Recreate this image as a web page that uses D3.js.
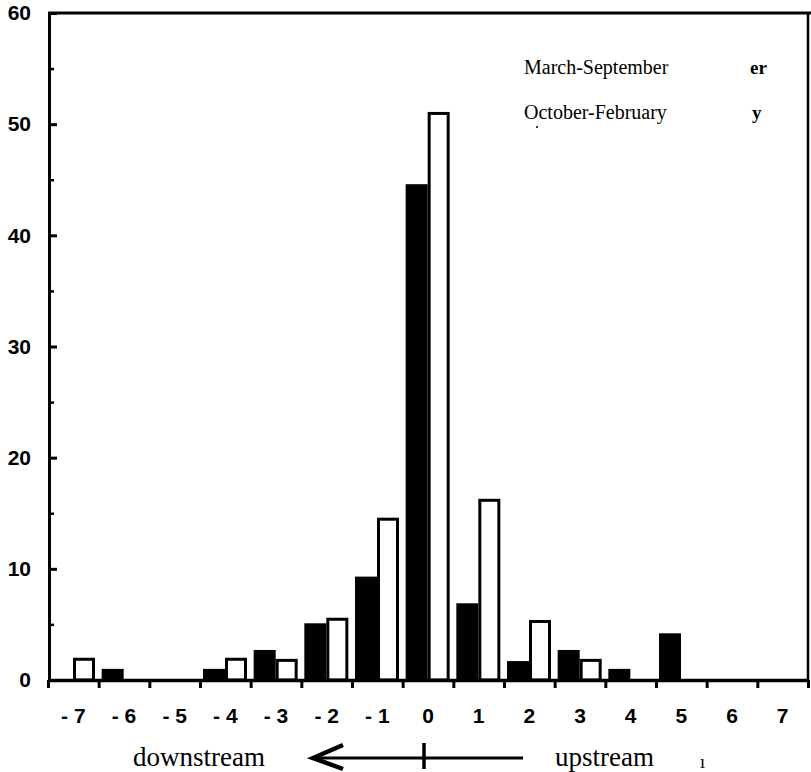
<!DOCTYPE html>
<html><head><meta charset="utf-8">
<script src="https://cdn.jsdelivr.net/npm/d3@7"></script>
<style>body{margin:0;background:#fff}svg{display:block}</style>
</head><body>
<svg id="c" width="811" height="772"></svg>
<script>
const categories = [-7,-6,-5,-4,-3,-2,-1,0,1,2,3,4,5,6,7];
const marchSeptember = [0, 1, 0, 1, 2.7, 5.1, 9.3, 44.6, 6.9, 1.7, 2.7, 1, 4.2, 0, 0];
const octoberFebruary = [2, 0, 0, 2, 1.9, 5.6, 14.6, 51.1, 16.3, 5.4, 1.9, 0, 0, 0, 0];
const yMajorTicks = [0,10,20,30,40,50,60];
const yMinorTicks = [5,15,25,35,45,55];
const xTickLabels = ["- 7","- 6","- 5","- 4","- 3","- 2","- 1","0","1","2","3","4","5","6","7"];
const legendLabels = ["March-September","October-February"];

const svg = d3.select("#c");
const x = d3.scaleBand().domain(categories).range([48, 808]).paddingInner(0).paddingOuter(0);
const xb = d3.scaleLinear().domain([-7.5, 7.5]).range([48, 808]);
const y = d3.scaleLinear().domain([0, 60]).range([680, 13]);
const sub = d3.scaleBand().domain(["ms","of"]).range([3, 47]).padding(0);

const tickFont = "bold 21px 'Liberation Sans', Arial, sans-serif";
const serif = "'Liberation Serif', 'Times New Roman', serif";

// bars
const data = categories.map((c,i)=>({c, ms: marchSeptember[i], of: octoberFebruary[i]}));
svg.append("g").selectAll("rect").data(data.filter(d=>d.ms>0)).join("rect")
  .attr("x", d=>x(d.c)+sub("ms")).attr("width", sub.bandwidth())
  .attr("y", d=>y(d.ms)).attr("height", d=>y(0)-y(d.ms)).attr("fill","#000");
svg.append("g").selectAll("rect").data(data.filter(d=>d.of>0)).join("rect")
  .attr("x", d=>x(d.c)+sub("of")+1.5).attr("width", sub.bandwidth()-3)
  .attr("y", d=>y(d.of)+1.5).attr("height", d=>y(0)-y(d.of)-1.5)
  .attr("fill","#fff").attr("stroke","#000").attr("stroke-width",3);

// y axis
const yAx = svg.append("g").attr("transform","translate(49,0)")
  .call(d3.axisLeft(y).tickValues(yMajorTicks).tickSize(-8).tickSizeOuter(0).tickPadding(18).tickFormat(d3.format("d")));
yAx.selectAll("line").attr("stroke-width",3);
yAx.select(".domain").attr("stroke-width",3);
yAx.selectAll("text").style("font", tickFont).attr("fill","#000");
const yMin = svg.append("g").attr("transform","translate(49,0)")
  .call(d3.axisLeft(y).tickValues(yMinorTicks).tickSize(-5).tickSizeOuter(0).tickFormat(""));
yMin.select(".domain").remove();
yMin.selectAll("line").attr("stroke-width",2.5);

// x axis
const xAx = svg.append("g").attr("transform","translate(0,680)")
  .call(d3.axisBottom(xb).tickValues(d3.range(-7.5, 7.6, 1)).tickSize(8).tickSizeOuter(0).tickFormat(""));
xAx.select(".domain").attr("stroke-width",3.5);
xAx.selectAll("line").attr("stroke-width",3);
const xLab = svg.append("g").attr("transform","translate(0,680)")
  .call(d3.axisBottom(x).tickSize(0).tickPadding(28).tickFormat((d,i)=>xTickLabels[i]));
xLab.select(".domain").remove();
xLab.selectAll("text").style("font", tickFont).attr("fill","#000");

// frame
svg.append("line").attr("x1",48).attr("x2",811).attr("y1",13).attr("y2",13).attr("stroke","#000").attr("stroke-width",3);
svg.append("line").attr("x1",808).attr("x2",808).attr("y1",13).attr("y2",681).attr("stroke","#000").attr("stroke-width",2.5);

// legend text
svg.append("g").selectAll("text").data(legendLabels).join("text")
  .attr("x",524).attr("y",(d,i)=>74+i*45).text(d=>d)
  .style("font-family",serif).style("font-size","20px").attr("fill","#000");
svg.append("text").attr("x",750).attr("y",74).text("er").style("font-family",serif).style("font-size","19px").style("font-weight","bold");
svg.append("text").attr("x",752).attr("y",119).text("y").style("font-family",serif).style("font-size","19px").style("font-weight","bold");
svg.append("circle").attr("cx",537).attr("cy",127).attr("r",1).attr("fill","#000");

// bottom direction labels
svg.append("text").attr("x",133).attr("y",766).text("downstream").style("font-family",serif).style("font-size","27px");
svg.append("text").attr("x",555).attr("y",766).text("upstream").style("font-family",serif).style("font-size","27px");
svg.append("text").attr("x",700).attr("y",768).text("ı").style("font-family",serif).style("font-size","18px");
svg.append("line").attr("x1",316).attr("x2",523).attr("y1",758).attr("y2",758).attr("stroke","#000").attr("stroke-width",3);
svg.append("path").attr("d","M343,745 L313,758 L343,769").attr("fill","none").attr("stroke","#000").attr("stroke-width",4.5);
svg.append("line").attr("x1",424).attr("x2",424).attr("y1",743).attr("y2",769).attr("stroke","#000").attr("stroke-width",3.5);
</script>
</body></html>
